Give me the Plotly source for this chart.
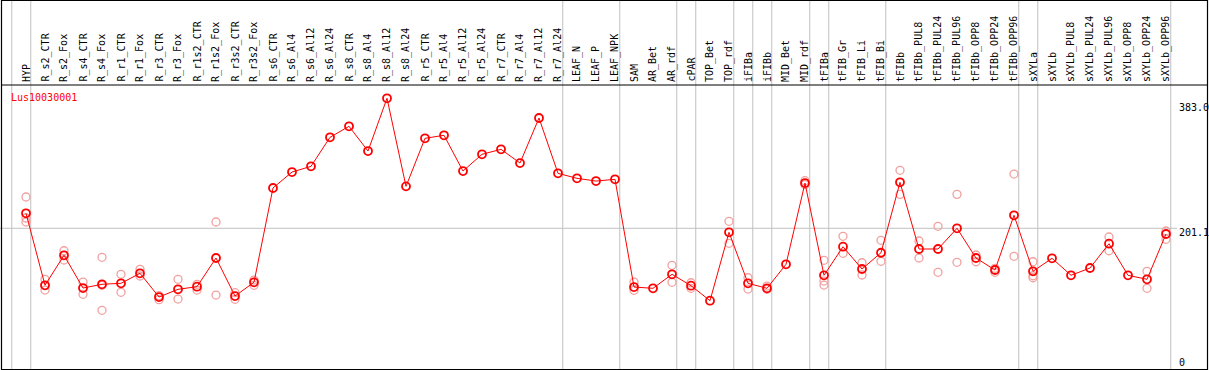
import plotly.graph_objects as go

categories = ["HYP", "R_s2_CTR", "R_s2_Fox", "R_s4_CTR", "R_s4_Fox", "R_r1_CTR", "R_r1_Fox",
              "R_r3_CTR", "R_r3_Fox", "R_r1s2_CTR", "R_r1s2_Fox", "R_r3s2_CTR", "R_r3s2_Fox",
              "R_s6_CTR", "R_s6_Al4", "R_s6_Al12", "R_s6_Al24", "R_s8_CTR", "R_s8_Al4", "R_s8_Al12",
              "R_s8_Al24", "R_r5_CTR", "R_r5_Al4", "R_r5_Al12", "R_r5_Al24", "R_r7_CTR", "R_r7_Al4",
              "R_r7_Al12", "R_r7_Al24", "LEAF_N", "LEAF_P", "LEAF_NPK", "SAM", "AR_Bet", "AR_rdf",
              "cPAR", "TOP_Bet", "TOP_rdf", "iFIBa", "iFIBb", "MID_Bet", "MID_rdf", "tFIBa",
              "tFIB_Gr", "tFIB_Li", "tFIB_Bi", "tFIBb", "tFIBb_PUL8", "tFIBb_PUL24", "tFIBb_PUL96",
              "tFIBb_OPP8", "tFIBb_OPP24", "tFIBb_OPP96", "sXYLa", "sXYLb", "sXYLb_PUL8",
              "sXYLb_PUL24", "sXYLb_PUL96", "sXYLb_OPP8", "sXYLb_OPP24", "sXYLb_OPP96"]

means = [222.1, 121.3, 163.3, 117.5, 122.7, 124.1, 138.1,
         104.9, 115.7, 119.4, 159.5, 106.3, 125.5,
         257.5, 279.8, 287.8, 328.4, 343.8, 309.2, 383.0,
         259.8, 327.0, 331.2, 281.2, 304.6, 311.6, 292.4,
         355.4, 278.0, 271.0, 267.2, 269.6, 118.9, 117.1, 136.7,
         120.8, 99.8, 195.5, 124.1, 117.1, 150.7, 264.4, 135.3,
         175.3, 144.1, 166.9, 265.4, 172.1, 172.1, 201.1,
         159.5, 142.7, 219.3, 140.9, 159.1, 135.3,
         145.5, 179.5, 135.3, 129.7, 193.1]

replicates = [[244.9, 215.5, 209.9], [129.7, 121.0, 114.7], [169.7, 156.7], [125.9, 108.7],
              [160.5, 86.3, 121.3], [136.7, 111.5], [143.7, 134.3],
              [106.8, 101.2], [129.7, 102.1], [122.7, 114.7], [209.9, 107.7], [111.0, 101.7],
              [128.7, 121.3],
              [], [], [], [], [], [], [],
              [], [], [], [], [], [], [],
              [], [], [], [], [], [125.9, 114.3], [], [149.3, 125.5],
              [124.9, 117.1], [], [210.9, 180.1], [131.9, 116.1], [120.3, 115.7], [], [267.7, 262.1],
              [156.3, 127.3, 121.7],
              [189.9, 166.1], [152.9, 135.7], [184.3, 154.9], [282.2, 248.6], [183.3, 159.5],
              [203.9, 139.5], [248.6, 153.5],
              [163.7, 154.3], [145.1, 139.5], [277.0, 161.9], [154.3, 131.9, 134.7], [], [],
              [], [188.9, 169.7], [], [140.9, 117.1], [197.3, 185.7]]

gene_name = "Lus10030001"
y_labels = ["383.0", "201.1", "0"]
grid_value = 201.1

# group separators: drawn just after these columns
separator_after = [None, "HYP", "R_r7_Al24", "LEAF_NPK", "AR_rdf", "cPAR", "TOP_rdf", "iFIBa",
                   "iFIBb", "MID_rdf", "tFIBa", "tFIB_Bi", "tFIBb_OPP96", "sXYLa", "sXYLb_OPP96"]

W, H, TOP = 1209, 370, 85
STEP, FIRST = 19.0, 26.0
x_lo = -FIRST / STEP
x_hi = (W - FIRST) / STEP
y_lo, y_hi = 2.8, 401.6


def px_x(xp):
    return xp / W


def px_y(yp):
    # figure pixel (from top) -> paper coordinate of the plot area (85..370)
    return (H - yp) / (H - TOP)


def idx_to_paper(i):
    return (i - x_lo) / (x_hi - x_lo)


rx, ry = [], []
for c, reps in zip(categories, replicates):
    for r in reps:
        rx.append(c)
        ry.append(r)

fig = go.Figure()
fig.add_trace(go.Scatter(
    x=rx, y=ry, mode="markers", hoverinfo="skip", showlegend=False,
    marker=dict(symbol="circle-open", size=8, color="#f2a0a0", line=dict(width=1.3)),
))
fig.add_trace(go.Scatter(
    x=categories, y=means, mode="lines+markers", showlegend=False,
    line=dict(color="#ff0000", width=1),
    marker=dict(symbol="circle-open", size=8, color="#ff0000", line=dict(width=1.8)),
))

shapes = []
GRAY = "#c0c0c0"
for name in separator_after:
    i = -1 if name is None else categories.index(name)
    xp = idx_to_paper(i + 0.25)
    shapes.append(dict(type="line", xref="paper", yref="paper", x0=xp, x1=xp,
                       y0=px_y(H), y1=px_y(0), line=dict(color=GRAY, width=1), layer="below"))
# horizontal gridline
shapes.append(dict(type="line", xref="paper", yref="y", x0=0, x1=px_x(1177),
                   y0=grid_value, y1=grid_value, line=dict(color=GRAY, width=1), layer="below"))
# frame
shapes.append(dict(type="rect", xref="paper", yref="paper", x0=px_x(1.5), x1=px_x(1207.5),
                   y0=px_y(369.5), y1=px_y(0.5), line=dict(color="black", width=1.2)))
shapes.append(dict(type="line", xref="paper", yref="paper", x0=px_x(1.5), x1=px_x(1207.5),
                   y0=px_y(85), y1=px_y(85), line=dict(color="black", width=1.2)))

FONT = "DejaVu Sans Mono"
annotations = [
    dict(xref="paper", yref="paper", x=px_x(9), y=px_y(97), text=gene_name, showarrow=False,
         xanchor="left", yanchor="middle", font=dict(family=FONT, size=10, color="#ff0000")),
]
for lab, yp in zip(y_labels, [107, 232, 362]):
    annotations.append(dict(xref="paper", yref="paper", x=px_x(1177), y=px_y(yp), text=lab,
                            showarrow=False, xanchor="left", yanchor="middle",
                            font=dict(family=FONT, size=10, color="black")))
# column labels in the header band
for i, c in enumerate(categories):
    annotations.append(dict(xref="x", yref="paper", x=c, y=px_y(84), text=c, textangle=-90,
                            showarrow=False, xanchor="center", yanchor="bottom",
                            font=dict(family=FONT, size=10, color="black")))

fig.update_layout(
    width=W, height=H, autosize=False,
    margin=dict(l=0, r=0, t=TOP, b=0, pad=0),
    paper_bgcolor="white", plot_bgcolor="white",
    shapes=shapes, annotations=annotations,
    xaxis=dict(type="category", categoryorder="array", categoryarray=categories,
               range=[x_lo, x_hi], showticklabels=False,
               showgrid=False, zeroline=False, showline=False, ticks=""),
    yaxis=dict(range=[y_lo, y_hi], showgrid=False, zeroline=False, showline=False,
               showticklabels=False, ticks=""),
)

fig.write_html(
    "out.html",
    config={"displayModeBar": False},
    post_script="document.body.style.margin='0';document.body.style.overflow='hidden';",
)
